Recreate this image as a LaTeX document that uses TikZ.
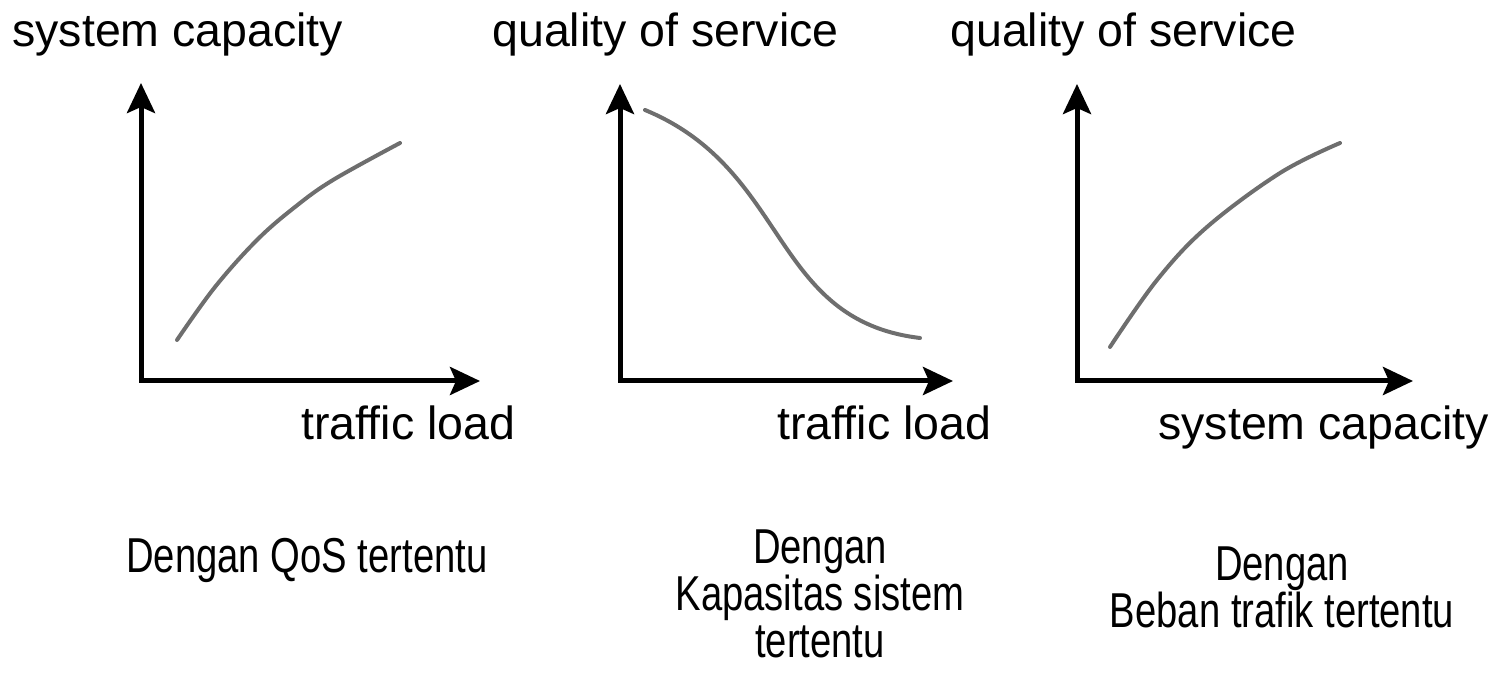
\documentclass[tikz,border=0pt]{standalone}
\usepackage{fontspec}
\setmainfont{Liberation Sans}
\newfontfamily\narrowfont[FakeStretch=0.78]{Liberation Sans}
\usetikzlibrary{arrows.meta}
\begin{document}
\begin{tikzpicture}[x=0.5pt,y=-0.5pt,
  axis/.style={line width=2.5pt, line join=miter, {Stealth[length=15pt,width=14pt,inset=3pt]}-{Stealth[length=15pt,width=14pt,inset=3pt]}},
  curve/.style={line width=2pt, color=curvegray, line cap=round},
  axlabel/.style={inner sep=0pt, anchor=base west, font=\fontsize{23.25}{28}\selectfont},
  caption/.style={inner sep=0pt, anchor=base, align=center, font=\narrowfont\fontsize{24.5}{23.5}\selectfont}]
\definecolor{curvegray}{HTML}{6E6E6E}
\useasboundingbox (0,0) rectangle (1499,673);
% chart 1
\coordinate (o1) at (141,381);
\coordinate (y1) at (141,83);
\coordinate (x1) at (480,381);
\draw[axis] (y1) -- (o1) -- (x1);
\draw[curve] plot[smooth, tension=0.6] coordinates {(177,340) (215,287) (257,240) (295,207) (333,180) (400,143)};
\node[axlabel] (t1) at (12,47) {system capacity};
\node[axlabel] (b1) at (301,440) {traffic load};
\node[caption] (c1) at (307,572) {Dengan QoS tertentu};
% chart 2
\coordinate (o2) at (620,381);
\coordinate (y2) at (620,84);
\coordinate (x2) at (953,381);
\draw[axis] (y2) -- (o2) -- (x2);
\draw[curve] (645,110) .. controls (790,170) and (770,320) .. (920,338);
\node[axlabel] (t2) at (492,47) {quality of service};
\node[axlabel] (b2) at (777,440) {traffic load};
\node[caption] (c2) at (820,657) {Dengan\\Kapasitas sistem\\tertentu};
% chart 3
\coordinate (o3) at (1077,381);
\coordinate (y3) at (1077,84);
\coordinate (x3) at (1413,381);
\draw[axis] (y3) -- (o3) -- (x3);
\draw[curve] plot[smooth, tension=0.6] coordinates {(1110,347) (1157,280) (1207,227) (1280,173) (1340,143)};
\node[axlabel] (t3) at (950,47) {quality of service};
\node[axlabel] (b3) at (1158,440) {system capacity};
\node[caption] (c3) at (1282,627) {Dengan\\Beban trafik tertentu};
\end{tikzpicture}
\end{document}
